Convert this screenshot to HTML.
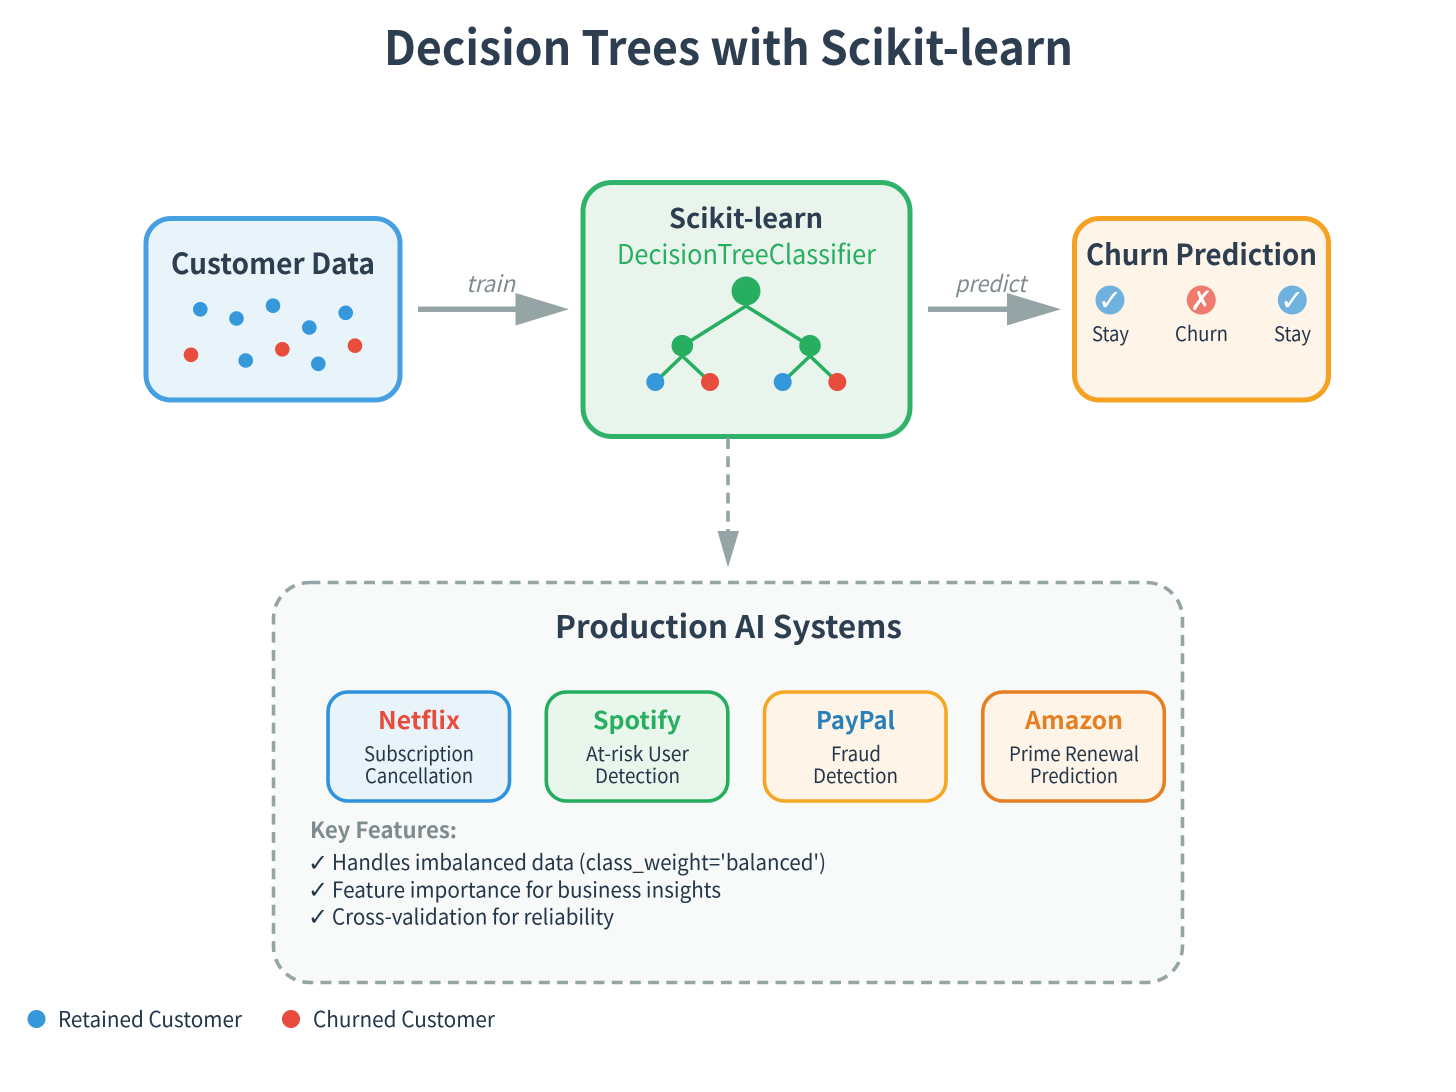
<!DOCTYPE html>
<html><head><meta charset="utf-8"><style>
html,body{margin:0;padding:0;background:#fff}
svg{display:block}
text{font-family:"Noto Sans CJK JP","Liberation Sans",sans-serif;fill:#2c3e50}
.b{font-weight:700}
.i{font-style:italic;fill:#7f8c8d}
.s{fill:#24364a}
.d{font-family:"DejaVu Sans",sans-serif}
</style></head><body>
<svg width="1456" height="1092" viewBox="0 0 1456 1092" xmlns="http://www.w3.org/2000/svg">
<rect width="1456" height="1092" fill="#fff"/>
<text class="b" x="384" y="65" font-size="47" textLength="689" lengthAdjust="spacingAndGlyphs">Decision Trees with Scikit-learn</text>

<!-- Customer -->
<rect x="146" y="218.500" width="254" height="181.500" rx="25" fill="#e9f4fa" stroke="#459fe0" stroke-width="5"/>
<text class="b" x="171" y="274" font-size="29" textLength="204" lengthAdjust="spacingAndGlyphs">Customer Data</text>
<g fill="#3498db"><circle cx="200.300" cy="309.300" r="7.300"/><circle cx="236.500" cy="318.500" r="7.300"/><circle cx="273" cy="305.700" r="7.300"/><circle cx="309.300" cy="327.500" r="7.300"/><circle cx="345.700" cy="312.800" r="7.300"/><circle cx="245.700" cy="360.500" r="7.300"/><circle cx="318.300" cy="363.800" r="7.300"/></g>
<g fill="#e74c3c"><circle cx="191" cy="354.800" r="7.300"/><circle cx="282.300" cy="349.300" r="7.300"/><circle cx="355" cy="345.700" r="7.300"/></g>

<!-- train arrow -->
<text class="i" x="466" y="292" font-size="23" textLength="49" lengthAdjust="spacingAndGlyphs">train</text>
<rect x="418" y="306.500" width="100" height="5.500" fill="#95a5a6"/>
<polygon points="515.500,293 569,309.300 515.500,325.500" fill="#95a5a6"/>

<!-- Center -->
<rect x="583" y="182.500" width="327" height="254" rx="29" fill="#e9f5ec" stroke="#30b26a" stroke-width="5"/>
<text class="b" x="669" y="228" font-size="27" textLength="154" lengthAdjust="spacingAndGlyphs">Scikit-learn</text>
<text x="617" y="264" font-size="27" textLength="259" lengthAdjust="spacingAndGlyphs" style="fill:#27ae60">DecisionTreeClassifier</text>
<g stroke="#27ae60" stroke-width="3.600" fill="none">
<path d="M746 306L682.300 346M746 306L810 346"/>
<path d="M682.300 356L655.300 382M682.300 356L710 382M810 356L782.700 382M810 356L837.300 382"/>
</g>
<circle cx="746" cy="291" r="14.500" fill="#27ae60"/>
<circle cx="682.300" cy="345.700" r="10.800" fill="#27ae60"/>
<circle cx="810" cy="345.700" r="10.800" fill="#27ae60"/>
<circle cx="655.300" cy="382" r="9" fill="#3498db"/>
<circle cx="710" cy="382" r="9" fill="#e74c3c"/>
<circle cx="782.700" cy="382" r="9" fill="#3498db"/>
<circle cx="837.300" cy="382" r="9" fill="#e74c3c"/>

<!-- predict arrow -->
<text class="i" x="955" y="292" font-size="23" textLength="71" lengthAdjust="spacingAndGlyphs">predict</text>
<rect x="928" y="306.500" width="82" height="5.500" fill="#95a5a6"/>
<polygon points="1007,293 1061,309.300 1007,325.500" fill="#95a5a6"/>

<!-- Churn box -->
<rect x="1074.500" y="218.500" width="254" height="181.500" rx="25" fill="#fef4e8" stroke="#f5a122" stroke-width="5"/>
<text class="b" x="1086" y="265" font-size="29" textLength="231" lengthAdjust="spacingAndGlyphs">Churn Prediction</text>
<circle cx="1110" cy="300" r="14.500" fill="#6fb1df"/>
<circle cx="1201.300" cy="300" r="14.500" fill="#ef7b6e"/>
<circle cx="1292.300" cy="300" r="14.500" fill="#6fb1df"/>
<text class="d" x="1110" y="310" font-size="29" text-anchor="middle" style="fill:#fff">✓</text>
<text class="d" x="1201.300" y="310" font-size="27" text-anchor="middle" style="fill:#fff">✗</text>
<text class="d" x="1292.300" y="310" font-size="29" text-anchor="middle" style="fill:#fff">✓</text>
<text class="s" x="1092" y="341" font-size="20" textLength="37" lengthAdjust="spacingAndGlyphs">Stay</text>
<text class="s" x="1175" y="341" font-size="20" textLength="53" lengthAdjust="spacingAndGlyphs">Churn</text>
<text class="s" x="1274" y="341" font-size="20" textLength="37" lengthAdjust="spacingAndGlyphs">Stay</text>

<!-- dashed arrow -->
<path d="M728 438V534" stroke="#95a5a6" stroke-width="3.600" stroke-dasharray="10.900 7.300" fill="none"/>
<polygon points="717.500,531 739,531 728,567.500" fill="#95a5a6"/>

<!-- Production box -->
<rect x="273.500" y="582.500" width="909" height="400" rx="36" fill="#f8f9f9" stroke="#95a5a6" stroke-width="3.600" stroke-dasharray="10.900 7.300"/>
<text class="b" x="555" y="638" font-size="31" textLength="347" lengthAdjust="spacingAndGlyphs">Production AI Systems</text>

<rect x="328" y="692" width="181.500" height="109" rx="20" fill="#e9f4fa" stroke="#2f92dc" stroke-width="3.600"/>
<rect x="546.300" y="692" width="181.500" height="109" rx="20" fill="#e9f6ec" stroke="#24ad5c" stroke-width="3.600"/>
<rect x="764.500" y="692" width="181.500" height="109" rx="20" fill="#fef5e8" stroke="#f5a623" stroke-width="3.600"/>
<rect x="982.800" y="692" width="181.500" height="109" rx="20" fill="#fef5e8" stroke="#e67e22" stroke-width="3.600"/>

<text class="b" x="378" y="729" font-size="24" textLength="82" lengthAdjust="spacingAndGlyphs" style="fill:#e74c3c">Netflix</text>
<text class="b" x="593" y="729" font-size="24" textLength="88" lengthAdjust="spacingAndGlyphs" style="fill:#27ae60">Spotify</text>
<text class="b" x="816" y="729" font-size="24" textLength="79" lengthAdjust="spacingAndGlyphs" style="fill:#2980b9">PayPal</text>
<text class="b" x="1025" y="729" font-size="24" textLength="98" lengthAdjust="spacingAndGlyphs" style="fill:#e67e22">Amazon</text>

<text class="s" x="364" y="761" font-size="20" textLength="110" lengthAdjust="spacingAndGlyphs">Subscription</text>
<text class="s" x="365" y="783" font-size="20" textLength="108" lengthAdjust="spacingAndGlyphs">Cancellation</text>
<text class="s" x="586" y="761" font-size="20" textLength="103" lengthAdjust="spacingAndGlyphs">At-risk User</text>
<text class="s" x="595" y="783" font-size="20" textLength="85" lengthAdjust="spacingAndGlyphs">Detection</text>
<text class="s" x="831" y="761" font-size="20" textLength="50" lengthAdjust="spacingAndGlyphs">Fraud</text>
<text class="s" x="813" y="783" font-size="20" textLength="85" lengthAdjust="spacingAndGlyphs">Detection</text>
<text class="s" x="1009" y="761" font-size="20" textLength="130" lengthAdjust="spacingAndGlyphs">Prime Renewal</text>
<text class="s" x="1030" y="783" font-size="20" textLength="88" lengthAdjust="spacingAndGlyphs">Prediction</text>

<text class="b" x="310" y="838" font-size="22" textLength="147" lengthAdjust="spacingAndGlyphs" style="fill:#7f8c8d">Key Features:</text>
<text class="d s" x="308" y="871" font-size="24">✓</text>
<text class="d s" x="308" y="898" font-size="24">✓</text>
<text class="d s" x="308" y="925" font-size="24">✓</text>
<text class="s" x="332" y="870" font-size="21.500" textLength="494" lengthAdjust="spacingAndGlyphs">Handles imbalanced data (class_weight='balanced')</text>
<text class="s" x="332" y="897.500" font-size="21.500" textLength="389" lengthAdjust="spacingAndGlyphs">Feature importance for business insights</text>
<text class="s" x="332" y="924.500" font-size="21.500" textLength="282" lengthAdjust="spacingAndGlyphs">Cross-validation for reliability</text>

<!-- Legend -->
<circle cx="36.500" cy="1019" r="9" fill="#3498db"/>
<text class="s" x="58" y="1027" font-size="21.500" textLength="184" lengthAdjust="spacingAndGlyphs">Retained Customer</text>
<circle cx="291" cy="1019" r="9" fill="#e74c3c"/>
<text class="s" x="313" y="1027" font-size="21.500" textLength="182" lengthAdjust="spacingAndGlyphs">Churned Customer</text>
</svg>
</body></html>
